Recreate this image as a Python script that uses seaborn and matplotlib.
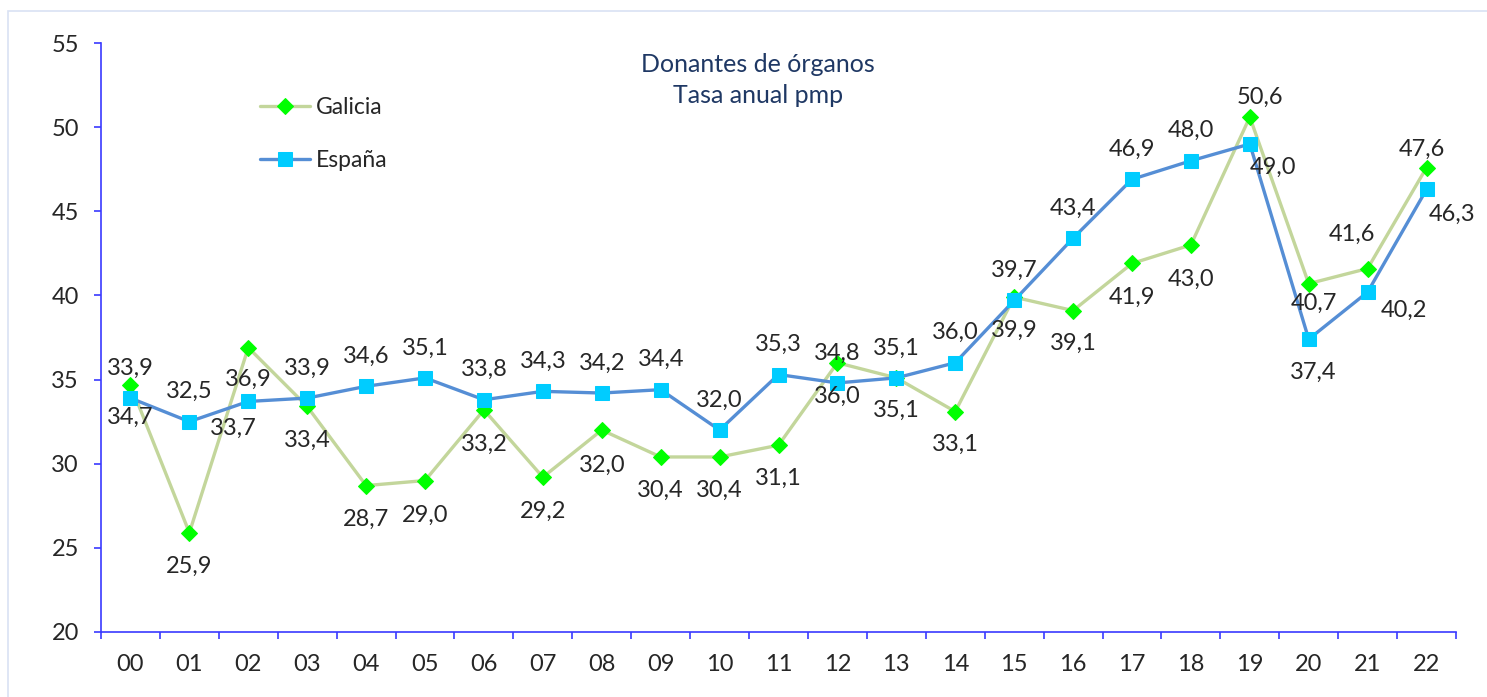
import matplotlib
matplotlib.use('Agg')
import matplotlib.pyplot as plt
import matplotlib.patches as mpatches
import seaborn as sns
import pandas as pd
import numpy as np

years = ['00', '01', '02', '03', '04', '05', '06', '07', '08', '09', '10', '11',
         '12', '13', '14', '15', '16', '17', '18', '19', '20', '21', '22']
galicia = [34.7, 25.9, 36.9, 33.4, 28.7, 29.0, 33.2, 29.2, 32.0, 30.4, 30.4, 31.1,
           36.0, 35.1, 33.1, 39.9, 39.1, 41.9, 43.0, 50.6, 40.7, 41.6, 47.6]
espana = [33.9, 32.5, 33.7, 33.9, 34.6, 35.1, 33.8, 34.3, 34.2, 34.4, 32.0, 35.3,
          34.8, 35.1, 36.0, 39.7, 43.4, 46.9, 48.0, 49.0, 37.4, 40.2, 46.3]

# label offsets in pixels (dx, dy up)
gal_off = [(0, -33), (0, -34), (0, -32), (0, -34), (0, -34), (0, -35), (0, -34),
           (0, -34), (0, -35), (0, -33), (0, -33), (0, -33), (0, -34), (0, -32),
           (0, -33), (0, -33), (0, -33), (0, -34), (0, -34), (10, 20), (5, -20),
           (-16, 34), (-5, 18)]
esp_off = [(0, 30), (0, 30), (-15, -27)] + [(0, 30)] * 16 + [(23, -23), (4, -33),
                                                              (36, -18), (26, -25)]

df = pd.DataFrame({'pos': np.arange(len(years)), 'Galicia': galicia, 'España': espana})

sns.set_style('white')
plt.rcParams['font.family'] = ['Lato', 'DejaVu Sans']

fig = plt.figure(figsize=(14.87, 6.97), dpi=100)
ax = fig.add_axes([101 / 1487, 65 / 697, 1355 / 1487, 589 / 697])

fig.patches.append(mpatches.Rectangle((8 / 1487, -0.05), 1.1, 1 - 11 / 697 + 0.05,
                                      transform=fig.transFigure, fill=False,
                                      edgecolor='#d9e2f3', linewidth=1.2))

sns.lineplot(data=df, x='pos', y='Galicia', ax=ax, color='#c3d69b', linewidth=2.4,
             marker='D', markersize=7.8, markerfacecolor='#00ff00',
             markeredgecolor='#00ff00', label='Galicia')
sns.lineplot(data=df, x='pos', y='España', ax=ax, color='#558ed5', linewidth=2.4,
             marker='s', markersize=9.5, markerfacecolor='#00ccff',
             markeredgecolor='#00ccff', label='España')

px = 0.72
for i, v in enumerate(galicia):
    dx, dy = gal_off[i]
    ax.annotate(f'{v:.1f}'.replace('.', ','), (i, v), xytext=(dx * px, dy * px),
                textcoords='offset points', ha='center', va='center', fontsize=17)
for i, v in enumerate(espana):
    dx, dy = esp_off[i]
    ax.annotate(f'{v:.1f}'.replace('.', ','), (i, v), xytext=(dx * px, dy * px),
                textcoords='offset points', ha='center', va='center', fontsize=17)

ax.set_xlim(-0.5, len(years) - 0.5)
ax.set_ylim(20, 55)
ax.set_yticks(range(20, 56, 5))
ax.set_xticks(np.arange(-0.5, len(years), 1))
ax.set_xticklabels([])
ax.set_xticks(np.arange(len(years)), minor=True)
ax.set_xticklabels(years, minor=True)
ax.set_xlabel('')
ax.set_ylabel('')

axis_blue = '#3a3aff'
for side in ['top', 'right']:
    ax.spines[side].set_visible(False)
for side in ['left', 'bottom']:
    ax.spines[side].set_color(axis_blue)
    ax.spines[side].set_linewidth(1.2)
ax.tick_params(axis='y', which='major', direction='out', length=5, width=1.2,
               color=axis_blue, labelsize=17, pad=11, left=True)
ax.tick_params(axis='x', which='major', direction='out', length=5, width=1.2,
               color=axis_blue, bottom=True)
ax.tick_params(axis='x', which='minor', length=0, labelsize=17, pad=16)

ax.text(0.485, 0.937, 'Donantes de órganos\nTasa anual pmp', transform=ax.transAxes,
        ha='center', va='center', fontsize=18, color='#1f3864', linespacing=1.45)

leg = ax.legend(loc='upper left', bbox_to_anchor=(0.117, 0.908), frameon=False,
                fontsize=16.5, handlelength=2.2, handletextpad=0.25, labelspacing=1.4,
                borderaxespad=0, borderpad=0)

fig.savefig('out.png', dpi=100, facecolor='white')
